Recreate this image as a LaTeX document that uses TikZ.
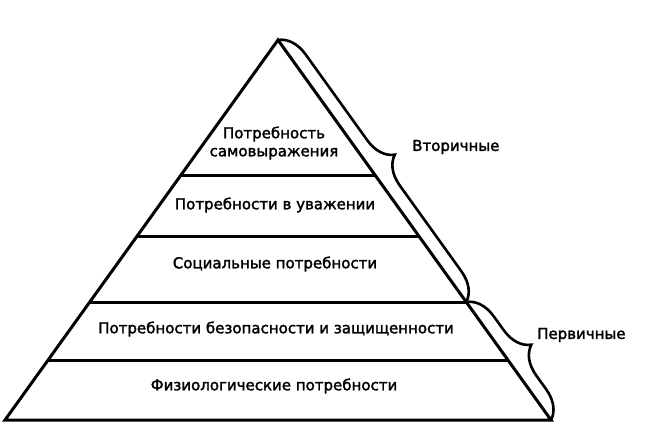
\documentclass[tikz,border=0pt]{standalone}
\usepackage{fontspec}
\setmainfont{DejaVu Sans}
\newfontfamily\labelfont[FakeBold=2]{DejaVu Sans}
\usetikzlibrary{calc, decorations.pathreplacing}
\tikzset{
  level/.style = {line width=3pt},
  bracket/.style = {decorate, decoration={brace, amplitude=28pt}, line width=2.6pt},
  need/.style = {align=center, font=\labelfont\fontsize{15}{18}\selectfont, inner sep=0pt},
  group/.style = {anchor=west, font=\labelfont\fontsize{15}{18}\selectfont, inner sep=0pt}
}

\begin{document}
\begin{tikzpicture}[x=1pt, y=-1pt]
\useasboundingbox (0, 0) rectangle (672, 447);
\coordinate (top) at (278, 40);
\coordinate (left) at (5, 420);
\coordinate (right) at (551, 420);
% pyramid
\draw [level, line join=miter] (top) -- (left) -- (right) -- cycle;
\draw [level] ($(top)!0.3553!(left)$) -- ($(top)!0.3553!(right)$);
\draw [level] ($(top)!0.5158!(left)$) -- ($(top)!0.5158!(right)$);
\draw [level] ($(top)!0.6895!(left)$) coordinate (midL) -- ($(top)!0.6895!(right)$) coordinate (midR);
\draw [level] ($(top)!0.8447!(left)$) -- ($(top)!0.8447!(right)$);
% levels
\node [need] (self) at (274, 143) {Потребность\\самовыражения};
\node [need] (esteem) at (275, 205) {Потребности в уважении};
\node [need] (social) at (275, 264) {Социальные потребности};
\node [need] (safety) at (276, 329) {Потребности безопасности и защищенности};
\node [need] (body) at (274, 386) {Физиологические потребности};
% braces
\draw [bracket] (top) -- (midR);
\draw [bracket] (midR) -- (right);
\node [group] (second) at (412, 147) {Вторичные};
\node [group] (first) at (537, 335) {Первичные};
\end{tikzpicture}
\end{document}
